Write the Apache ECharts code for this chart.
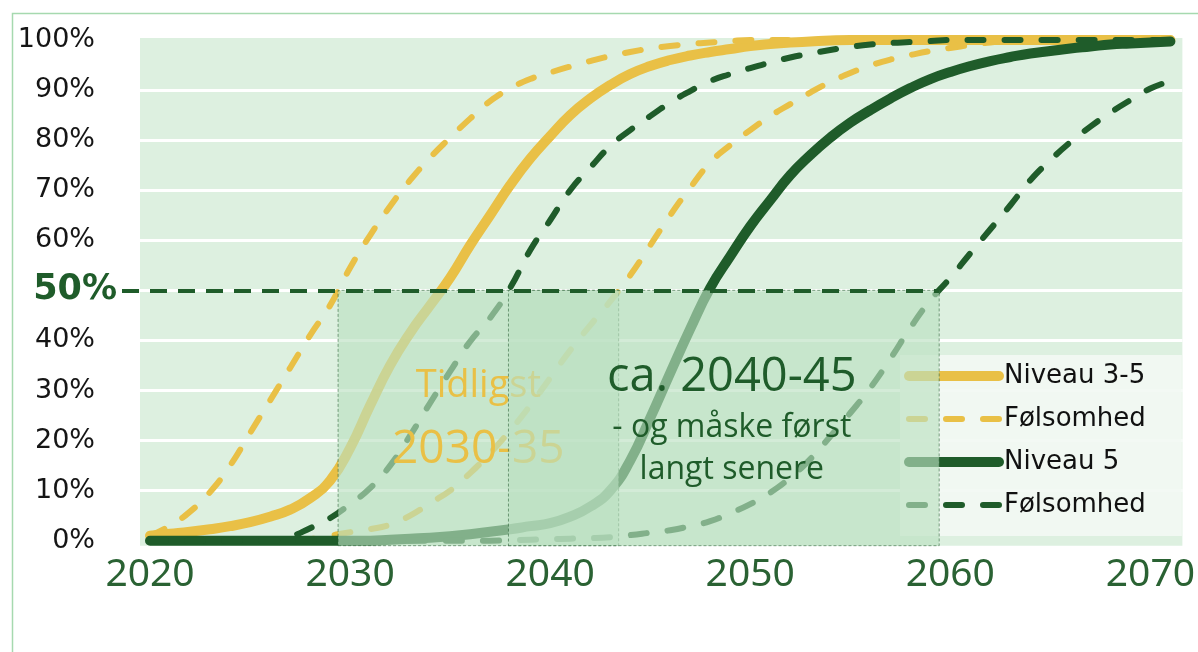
<!DOCTYPE html>
<html>
<head>
<meta charset="utf-8">
<script src="https://cdn.jsdelivr.net/npm/echarts@6/dist/echarts.min.js"></script>
<style>
  html, body { margin: 0; padding: 0; background: #ffffff; }
  #chart { width: 1198px; height: 652px; }
</style>
</head>
<body>
<div id="chart"></div>
<script>
// Share of the fleet (%) per year
const years = [
  2020, 2021, 2022, 2023, 2024, 2025, 2026, 2027, 2028, 2029,
  2030, 2031, 2032, 2033, 2034, 2035, 2036, 2037, 2038, 2039,
  2040, 2041, 2042, 2043, 2044, 2045, 2046, 2047, 2048, 2049,
  2050, 2051, 2052, 2053, 2054, 2055, 2056, 2057, 2058, 2059,
  2060, 2061, 2062, 2063, 2064, 2065, 2066, 2067, 2068, 2069,
  2070, 2071
];
const niveau35 = [
  1, 1.4, 1.8, 2.3, 2.9, 3.7, 4.8, 6.2, 8.5, 12,
  18.5, 27, 35, 41.5, 47, 52.5, 59, 65, 71, 76.3,
  80.8, 85, 88.3, 91, 93.2, 94.8, 96, 96.9, 97.6, 98.2,
  98.8, 99.2, 99.5, 99.7, 99.9, 100, 100, 100, 100, 100,
  100, 100, 100, 100, 100, 100, 100, 100, 100, 100,
  100, 100
];
const folsomhed35Early = [
  1, 3, 5.8, 9.7, 15, 21.5, 28, 34.5, 41, 47,
  54.5, 61, 66.8, 72, 76.5, 80.5, 84.3, 87.8, 90.3, 92.2,
  93.5, 94.7, 95.8, 96.8, 97.6, 98.3, 98.8, 99.2, 99.5, 99.8,
  100, 100, 100, 100, 100, 100, 100, 100, 100, 100,
  100, 100, 100, 100, 100, 100, 100, 100, 100, 100,
  100, 100
];
const folsomhed35Late = [
  0, 0, 0, 0, 0, 0, 0, 0, 0.3, 1,
  1.7, 2.3, 3.2, 5, 7.5, 10, 13.5, 17.5, 22, 27,
  32.5, 38, 43, 47.8, 53, 59, 65, 70.5, 75.5, 79,
  82, 84.8, 87.2, 89.5, 91.6, 93.4, 94.9, 96.1, 97, 97.8,
  98.4, 99, 99.5, 99.8, 100, 100, 100, 100, 100, 100,
  100, 100
];
const niveau5 = [
  0, 0, 0, 0, 0, 0, 0, 0, 0, 0,
  0, 0, 0.2, 0.4, 0.6, 0.9, 1.3, 1.8, 2.3, 2.9,
  3.5, 4.8, 6.8, 10, 16, 24.5, 33.5, 42.3, 50.5, 56.8,
  62.8, 68, 73, 77, 80.5, 83.5, 86, 88.3, 90.4, 92.2,
  93.6, 94.8, 95.8, 96.6, 97.3, 97.8, 98.3, 98.7, 99.1, 99.3,
  99.5, 99.7
];
const folsomhed5Early = [
  0, 0, 0, 0, 0, 0, 0, 0.8, 2.5, 4.5,
  7.3, 10.5, 15, 21, 27.5, 33.8, 39.8, 44.5, 50.5, 58,
  64, 70, 74.5, 78.8, 82, 84.8, 87.5, 89.8, 91.8, 93.2,
  94.4, 95.5, 96.5, 97.3, 98, 98.6, 99.1, 99.4, 99.6, 99.8,
  100, 100, 100, 100, 100, 100, 100, 100, 100, 100,
  100, 100
];
const folsomhed5Late = [
  0, 0, 0, 0, 0, 0, 0, 0, 0, 0,
  0, 0, 0, 0, 0, 0, 0, 0, 0.1, 0.2,
  0.3, 0.4, 0.5, 0.7, 1.1, 1.6, 2.1, 2.9, 3.9, 5.5,
  7.3, 9.6, 12.6, 16.3, 20.8, 25.5, 30.5, 36.3, 42.5, 48,
  52.5, 57.4, 62.2, 67, 72, 76, 79.6, 82.7, 85.5, 88,
  90.3, 91.8
];

const xTickLabels = [2020, 2030, 2040, 2050, 2060, 2070];
const yTickLabels = [0, 10, 20, 30, 40, 50, 60, 70, 80, 90, 100];
const yGridValues = [10, 20, 30, 40, 50, 60, 70, 80, 90];
const threshold = 50;

const legendNames = ['Niveau 3-5', 'Følsomhed 3-5', 'Niveau 5', 'Følsomhed 5'];
const legendLabel = 'Følsomhed';
const boxText35 = ['Tidligst', '2030-35'];
const boxText5 = ['ca. 2040-45', '- og måske først', 'langt senere'];

const X_MIN = 2018.6, X_MAX = 2071.6, PLOT_START = 2019.5;
const Y_MIN = -1, Y_MAX = 100.4;

const YELLOW = '#E9C046';
const GREEN = '#1F5C2A';

// Year at which a curve first reaches the threshold (linear between years)
function crossingYear(values) {
  for (let i = 1; i < values.length; i++) {
    if (values[i] >= threshold && values[i - 1] < threshold) {
      const t = (threshold - values[i - 1]) / (values[i] - values[i - 1]);
      return years[i - 1] + t * (years[i] - years[i - 1]);
    }
  }
  return years[years.length - 1];
}
const range35 = [crossingYear(folsomhed35Early), crossingYear(folsomhed35Late)];
const range5 = [crossingYear(folsomhed5Early), crossingYear(folsomhed5Late)];

const pairs = arr => years.map((y, i) => [y, arr[i]]);

const solid = (color) => ({ color, width: 10, cap: 'round', join: 'round' });
const dashed = (color) => ({ color, width: 6, type: [16, 21], cap: 'round', join: 'round' });

function lineSeries(name, values, style, extra) {
  return Object.assign({
    type: 'line',
    name,
    data: pairs(values),
    showSymbol: false,
    symbol: 'none',
    smooth: 0.5,
    color: style.color,
    lineStyle: style,
    z: 2,
    silent: true
  }, extra || {});
}

const boxStyle = (fill) => ({
  color: fill,
  borderColor: 'rgba(35,90,45,0.55)',
  borderWidth: 1,
  borderType: [3, 2]
});

const chart = echarts.init(document.getElementById('chart'), null, { renderer: 'canvas' });

chart.setOption({
  animation: false,
  backgroundColor: '#ffffff',
  graphic: [{
    type: 'rect',
    left: 10, top: 11,
    shape: { width: 1260, height: 700 },
    style: { fill: 'none', stroke: '#A6D9AF', lineWidth: 1.5 },
    silent: true, z: -1
  }],
  grid: { left: 122, right: 11, top: 38, bottom: 106.3, containLabel: false },
  xAxis: {
    type: 'value',
    min: X_MIN, max: X_MAX,
    axisLine: { show: false },
    axisTick: { show: false },
    splitLine: { show: false },
    axisLabel: {
      customValues: xTickLabels,
      formatter: v => String(Math.round(v)),
      color: '#2A6233',
      fontFamily: 'Noto Sans',
      fontSize: 39,
      margin: 10
    }
  },
  yAxis: {
    type: 'value',
    min: Y_MIN, max: Y_MAX,
    z: 1.5,
    axisLine: { show: false },
    axisTick: { show: false, customValues: yGridValues },
    splitLine: { show: true, lineStyle: { color: '#ffffff', width: 3 } },
    axisLabel: {
      customValues: yTickLabels,
      margin: 5,
      formatter: v => (v === threshold ? '{hl|' + v + '%}' : '{n|' + v + '%}'),
      rich: {
        n: { fontFamily: 'DejaVu Sans', fontSize: 27, color: '#151515', padding: [0, 22, 0, 0] },
        hl: { fontFamily: 'DejaVu Sans', fontSize: 35, fontWeight: 'bold', color: GREEN }
      }
    }
  },
  legend: {
    data: legendNames,
    orient: 'vertical',
    left: 900, top: 355,
    itemWidth: 90, itemHeight: 14, itemGap: 13,
    padding: [6, 36, 16, 4],
    backgroundColor: 'rgba(242,249,243,0.92)',
    selectedMode: false,
    z: 4,
    itemStyle: { opacity: 0 },
    lineStyle: { width: 'inherit' },
    formatter: n => (n.indexOf(legendLabel) === 0 ? legendLabel : n),
    textStyle: { fontFamily: 'DejaVu Sans', fontSize: 26, color: '#111111', lineHeight: 30 }
  },
  series: [
    lineSeries('Niveau 3-5', niveau35, solid(YELLOW), {
      // plot background
      markArea: {
        silent: true, z: 1,
        itemStyle: { color: '#DDF0E0' },
        data: [[{ xAxis: PLOT_START }, {}]]
      }
    }),
    lineSeries('Følsomhed 3-5', folsomhed35Early, dashed(YELLOW), {
      markArea: {
        silent: true, z: 10,
        itemStyle: boxStyle('rgba(186,223,192,0.64)'),
        label: {
          show: true, position: 'inside',
          formatter: '{a|' + boxText35[0] + '}\n{b|' + boxText35[1] + '}',
          rich: {
            a: { fontFamily: 'Open Sans', fontSize: 38, lineHeight: 64, color: YELLOW },
            b: { fontFamily: 'Open Sans', fontSize: 46, lineHeight: 64, color: YELLOW }
          }
        },
        data: [[{ xAxis: range35[0] }, { xAxis: range35[1], yAxis: threshold }]]
      }
    }),
    lineSeries('Følsomhed 3-5', folsomhed35Late, dashed(YELLOW)),
    lineSeries('Niveau 5', niveau5, solid(GREEN)),
    lineSeries('Følsomhed 5', folsomhed5Early, dashed(GREEN), {
      markArea: {
        silent: true, z: 12,
        itemStyle: boxStyle('rgba(186,223,192,0.64)'),
        label: {
          show: true, position: 'inside', offset: [8, 2],
          formatter: '{a|' + boxText5[0] + '}\n{b|' + boxText5[1] + '}\n{b|' + boxText5[2] + '}',
          rich: {
            a: { fontFamily: 'Open Sans', fontSize: 47, lineHeight: 58, color: GREEN },
            b: { fontFamily: 'Open Sans', fontSize: 32, lineHeight: 42, color: GREEN }
          }
        },
        data: [[{ xAxis: range5[0] }, { xAxis: range5[1], yAxis: threshold }]]
      }
    }),
    lineSeries('Følsomhed 5', folsomhed5Late, dashed(GREEN), {
      markLine: {
        silent: true, z: 14,
        symbol: ['none', 'none'],
        label: { show: false },
        lineStyle: { color: GREEN, width: 4, type: [17, 11], cap: 'butt' },
        data: [[{ coord: [X_MIN, threshold] }, { coord: [range5[1], threshold] }]]
      }
    })
  ]
});
</script>
</body>
</html>
